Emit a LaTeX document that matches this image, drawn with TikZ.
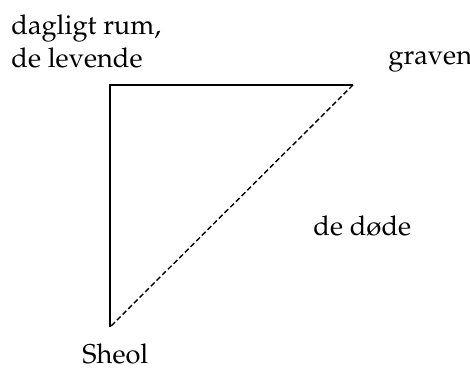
\documentclass[tikz,border=0pt]{standalone}
\usepackage[T1]{fontenc}
\usepackage{mathpazo}
\usetikzlibrary{positioning}

\begin{document}
\begin{tikzpicture}[x=0.5pt, y=-0.5pt, every node/.style={font=\fontsize{13.6}{16.5}\selectfont,inner sep=0pt}, lab/.style={anchor=base west,align=left}, side/.style={line width=0.6pt}, dd/.style={line width=0.7pt,dash pattern=on 2.6pt off 1.4pt}]
\useasboundingbox (0,0) rectangle (470,369);
\coordinate (rum) at (110,85);
\coordinate (grav) at (353,85);
\coordinate (sheol) at (110,327);
\node[lab] (levende) at (11,68) {dagligt rum,\\de levende};
\node[lab] (graven) at (388,65) {graven};
\node[lab] (doede) at (313,235) {de d\o de};
\node[lab] (sheoltxt) at (82,363) {Sheol};
\draw[side] (grav) -- (rum) -- (sheol);
\draw[dd] (grav) -- (sheol);
\end{tikzpicture}
\end{document}
